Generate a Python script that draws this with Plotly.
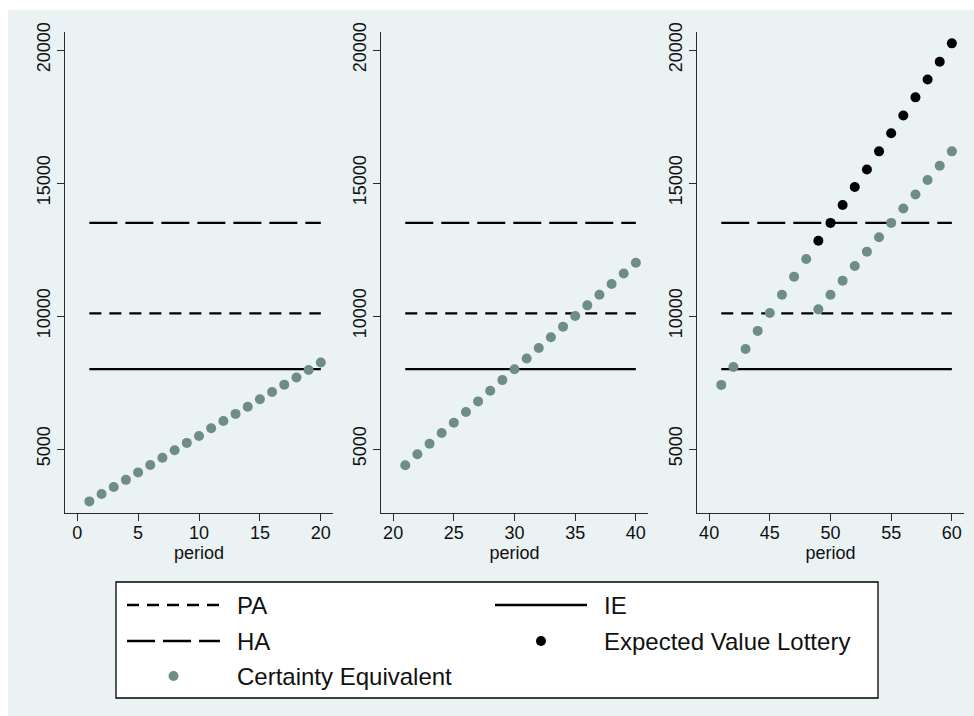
import plotly.graph_objects as go

W, H = 974, 716

# ---- data -------------------------------------------------------------
periods_1 = list(range(1, 21))
periods_2 = list(range(21, 41))
periods_3 = list(range(41, 61))

ce_1 = [3030, 3310, 3570, 3840, 4120, 4400, 4670, 4950, 5230, 5490,
        5780, 6050, 6320, 6590, 6870, 7140, 7420, 7690, 7970, 8250]
ce_2 = [4390, 4800, 5200, 5600, 5990, 6390, 6790, 7190, 7590, 8000,
        8400, 8800, 9200, 9600, 10000, 10400, 10800, 11200, 11600, 12000]
ce_3 = [7410, 8080, 8760, 9440, 10110, 10800, 11480, 12140, 10250, 10800,
        11330, 11880, 12420, 12960, 13500, 14040, 14570, 15110, 15650, 16190]

ev_periods = list(range(49, 61))
ev_3 = [12830, 13500, 14170, 14850, 15510, 16190,
        16870, 17540, 18220, 18890, 19560, 20250]

pa_level = 10100
ie_level = 8000
ha_level = 13500

y_ticks = [5000, 10000, 15000, 20000]
y_tick_text = ["5000", "10000", "15000", "20000"]
y_range = [2594, 20677]
x_ranges = [[-1, 21], [19, 41], [39, 61]]
x_ticks = [[0, 5, 10, 15, 20], [20, 25, 30, 35, 40], [40, 45, 50, 55, 60]]

# ---- styling ----------------------------------------------------------
BG = "#EAF2F3"
CE_COLOR = "#6E8E84"
AXIS_COLOR = "#2b2b2b"
FONT = "Liberation Sans, Arial, Helvetica, sans-serif"
PA_DASH = "12px,8px"
HA_DASH = "28px,8px"
LW = 2.3

panel_px = [(65, 333), (381, 648), (697, 964)]
plot_top, plot_bottom = 32, 513


def fx(px):
    return px / W


def fy(py):
    return 1 - py / H


fig = go.Figure()

panels = [
    (periods_1, ce_1, None, None),
    (periods_2, ce_2, None, None),
    (periods_3, ce_3, ev_periods, ev_3),
]

for i, (per, ce, evp, ev) in enumerate(panels):
    xa = "x" if i == 0 else f"x{i + 1}"
    ya = "y" if i == 0 else f"y{i + 1}"
    fig.add_trace(go.Scatter(x=per, y=[pa_level] * len(per), mode="lines",
                             line=dict(color="black", width=LW, dash=PA_DASH),
                             xaxis=xa, yaxis=ya, name="PA", showlegend=False))
    fig.add_trace(go.Scatter(x=per, y=[ie_level] * len(per), mode="lines",
                             line=dict(color="black", width=LW),
                             xaxis=xa, yaxis=ya, name="IE", showlegend=False))
    fig.add_trace(go.Scatter(x=per, y=[ha_level] * len(per), mode="lines",
                             line=dict(color="black", width=LW, dash=HA_DASH),
                             xaxis=xa, yaxis=ya, name="HA", showlegend=False))
    if evp is not None:
        fig.add_trace(go.Scatter(x=evp, y=ev, mode="markers",
                                 marker=dict(color="black", size=10),
                                 xaxis=xa, yaxis=ya,
                                 name="Expected Value Lottery", showlegend=False))
    fig.add_trace(go.Scatter(x=per, y=ce, mode="markers",
                             marker=dict(color=CE_COLOR, size=10),
                             xaxis=xa, yaxis=ya,
                             name="Certainty Equivalent", showlegend=False))

axis_common = dict(showline=True, linecolor=AXIS_COLOR, linewidth=1.3,
                   ticks="outside", ticklen=7, tickwidth=1.3,
                   tickcolor=AXIS_COLOR, zeroline=False, automargin=False,
                   tickfont=dict(family=FONT, size=18, color="#111"))

layout = dict(
    width=W, height=H,
    margin=dict(l=0, r=0, t=0, b=0),
    paper_bgcolor="white", plot_bgcolor="white",
    showlegend=False,
    font=dict(family=FONT, color="#111"),
)

for i, (x0, x1) in enumerate(panel_px):
    k = "" if i == 0 else str(i + 1)
    layout[f"xaxis{k}"] = dict(
        axis_common, domain=[fx(x0), fx(x1)], range=x_ranges[i],
        tickvals=x_ticks[i], showgrid=False, ticklabelstandoff=-4,
        anchor=f"y{k}",
        title=dict(text="period", font=dict(family=FONT, size=18, color="#111"),
                   standoff=0),
    )
    layout[f"yaxis{k}"] = dict(
        axis_common, domain=[fy(plot_bottom), fy(plot_top)], range=y_range,
        tickvals=y_ticks, ticktext=y_tick_text, tickangle=-90, showgrid=True,
        gridcolor=BG, gridwidth=1.2, anchor=f"x{k}",
    )

fig.update_layout(**layout)

# outer graph region background
shapes = [dict(type="rect", xref="paper", yref="paper",
               x0=fx(8), x1=1, y0=0, y1=fy(10),
               fillcolor=BG, line=dict(width=0), layer="below")]

# legend box
lg_x0, lg_x1, lg_y0, lg_y1 = 116, 878, 582, 698
shapes.append(dict(type="rect", xref="paper", yref="paper",
                   x0=fx(lg_x0), x1=fx(lg_x1), y0=fy(lg_y1), y1=fy(lg_y0),
                   fillcolor="white", line=dict(color="black", width=1.3)))

rows = [605, 641, 676]
col_sample = [(127, 220), (495, 587)]
col_text = [235, 602]

legend_items = [
    ("PA", 0, 0, "line", PA_DASH),
    ("IE", 1, 0, "line", "solid"),
    ("HA", 0, 1, "line", HA_DASH),
    ("Expected Value Lottery", 1, 1, "marker", "black"),
    ("Certainty Equivalent", 0, 2, "marker", CE_COLOR),
]

annotations = []
for label, col, row, kind, style in legend_items:
    yc = rows[row]
    sx0, sx1 = col_sample[col]
    if kind == "line":
        shapes.append(dict(type="line", xref="paper", yref="paper",
                           x0=fx(sx0), x1=fx(sx1), y0=fy(yc), y1=fy(yc),
                           line=dict(color="black", width=LW, dash=style)))
    else:
        cx = (sx0 + sx1) / 2
        r = 5
        shapes.append(dict(type="circle", xref="paper", yref="paper",
                           x0=fx(cx - r), x1=fx(cx + r),
                           y0=fy(yc + r), y1=fy(yc - r),
                           fillcolor=style, line=dict(width=0)))
    annotations.append(dict(text=label, xref="paper", yref="paper",
                            x=fx(col_text[col]), y=fy(yc),
                            xanchor="left", yanchor="middle", showarrow=False,
                            font=dict(family=FONT, size=24, color="#111")))

fig.update_layout(shapes=shapes, annotations=annotations)

fig.write_html("out.html")
